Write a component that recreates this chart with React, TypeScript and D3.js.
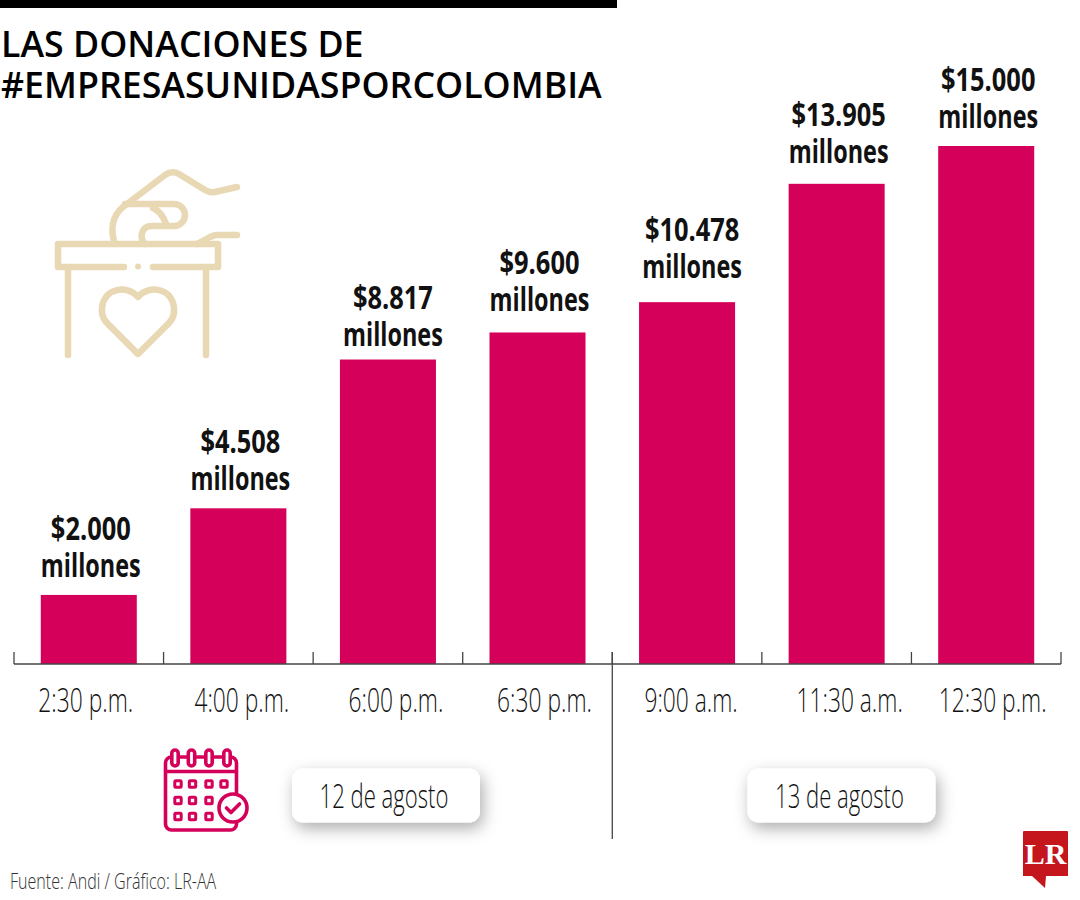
import React, { useEffect, useRef } from 'react';
import * as d3 from 'd3';

const times = ['2:30 p.m.', '4:00 p.m.', '6:00 p.m.', '6:30 p.m.', '9:00 a.m.', '11:30 a.m.', '12:30 p.m.'];
const donations = [2000, 4508, 8817, 9600, 10478, 13905, 15000];
const valueLabels = ['$2.000', '$4.508', '$8.817', '$9.600', '$10.478', '$13.905', '$15.000'];
const titleLines = ['LAS DONACIONES DE', '#EMPRESASUNIDASPORCOLOMBIA'];
const dayLabels = ['12 de agosto', '13 de agosto'];

// the labels are not quite centred on the bars in the original
const timeNudge = [-3, 3.5, 8, 7, 4, 13, 6.5];
const valueNudge = [2, 2, 5, 2, 5, 2, 2];
const valueLift = [0, 0, -4, 3, 6, 2.5, 0.5];

const FONT = '"Open Sans", sans-serif';
const PINK = '#d4005a';
const CREAM = '#e9d8b4';

const App: React.FC = () => {
	const ref = useRef<SVGSVGElement>(null);

	useEffect(() => {
		if (!ref.current) return;
		const svg = d3.select(ref.current);
		svg.selectAll('*').remove();

		const x = d3
			.scaleBand<string>()
			.domain(times)
			.range([14, 1061])
			.paddingInner(0.358)
			.paddingOuter(0.179);
		const y = d3.scaleLinear().domain([0, 15000]).range([664, 146]);
		const step = x.step();
		const cx = (t: string) => (x(t) ?? 0) + x.bandwidth() / 2;

		// condensed type is faked by squeezing a normal face horizontally
		const label = (
			px: number,
			py: number,
			text: string,
			size: number,
			weight: number,
			squeeze: number,
			anchor = 'middle',
			fill = '#111',
		) =>
			svg
				.append('text')
				.attr('transform', `translate(${px},${py}) scale(${squeeze},1)`)
				.attr('text-anchor', anchor)
				.attr('font-family', FONT)
				.attr('font-size', size)
				.attr('font-weight', weight)
				.attr('fill', fill)
				.text(text);

		// --- Header ---
		svg.append('rect').attr('x', 0).attr('y', 0).attr('width', 617).attr('height', 8).attr('fill', '#000');
		titleLines.forEach((line, i) => {
			label(1, 57 + i * 41, line, 36, 600, 0.993, 'start', '#000');
		});

		// --- Bars ---
		svg
			.selectAll('rect.bar')
			.data(donations)
			.enter()
			.append('rect')
			.attr('class', 'bar')
			.attr('x', (_, i) => x(times[i]) ?? 0)
			.attr('y', (d) => y(d))
			.attr('width', x.bandwidth())
			.attr('height', (d) => y(0) - y(d))
			.attr('fill', PINK);

		// --- Value labels ---
		donations.forEach((d, i) => {
			const px = cx(times[i]) + valueNudge[i];
			label(px, y(d) - 55 - valueLift[i], valueLabels[i], 33, 700, 0.77);
			label(px, y(d) - 18 - valueLift[i], 'millones', 33, 700, 0.71);
		});

		// --- Axis ---
		const axis = svg.append('g').attr('stroke', '#444').attr('stroke-width', 1.3);
		axis.append('line').attr('x1', 14).attr('x2', 1061).attr('y1', 664).attr('y2', 664);
		d3.range(times.length + 1).forEach((i) => {
			const tx = 14 + i * step;
			axis.append('line').attr('x1', tx).attr('x2', tx).attr('y1', 652).attr('y2', 664);
		});
		axis
			.append('line')
			.attr('x1', 14 + 4 * step)
			.attr('x2', 14 + 4 * step)
			.attr('y1', 652)
			.attr('y2', 839);

		times.forEach((t, i) => {
			label(cx(t) + timeNudge[i], 712, t, 33, 300, 0.69);
		});

		// --- Day badges ---
		const defs = svg.append('defs');
		const blur = defs
			.append('filter')
			.attr('id', 'badge-shadow')
			.attr('x', '-20%')
			.attr('y', '-50%')
			.attr('width', '140%')
			.attr('height', '220%');
		blur
			.append('feDropShadow')
			.attr('dx', 3)
			.attr('dy', 6)
			.attr('stdDeviation', 8)
			.attr('flood-color', '#000')
			.attr('flood-opacity', 0.32);
		[292, 747.5].forEach((bx, i) => {
			svg
				.append('rect')
				.attr('x', bx)
				.attr('y', 768.5)
				.attr('width', 188)
				.attr('height', 54)
				.attr('rx', 11)
				.attr('fill', '#fff')
				.attr('filter', 'url(#badge-shadow)');
			label(bx + 92, 808, dayLabels[i], 33, 300, 0.67);
		});

		// --- Ballot box icon ---
		const box = svg
			.append('g')
			.attr('fill', 'none')
			.attr('stroke', CREAM)
			.attr('stroke-width', 6.5)
			.attr('stroke-linecap', 'round')
			.attr('stroke-linejoin', 'round');
		[
			'M115 244C110 230 112 216 123 207L165 175Q172 170 179 174L205 190Q210 193 215 192L237 187',
			'M125 204H174A11 11 0 0 1 174 226H152C141 226 139 238 145 244',
			'M153 208Q162 212 166 224',
			'M197 244L210 237Q214 235 218 235H237',
			'M124 267H58V244H218V267H153',
			'M68 267V355',
			'M206 267V355',
			'M138 297C128 285 104 287 102 308C101 318 106 322 112 328L138 354L164 328C170 322 175 318 174 308C172 287 148 285 138 297Z',
		].forEach((d) => box.append('path').attr('d', d));
		svg.append('circle').attr('cx', 138).attr('cy', 266.5).attr('r', 3).attr('fill', CREAM);

		// --- Calendar icon ---
		const cal = svg
			.append('g')
			.attr('fill', 'none')
			.attr('stroke', PINK)
			.attr('stroke-width', 3.6)
			.attr('stroke-linejoin', 'round');
		cal.append('rect').attr('x', 165.5).attr('y', 757).attr('width', 71).attr('height', 73).attr('rx', 6);
		cal.append('line').attr('x1', 165.5).attr('x2', 236.5).attr('y1', 771.5).attr('y2', 771.5);
		[175, 191.5, 209, 227].forEach((rx) => {
			cal
				.append('rect')
				.attr('x', rx - 3.2)
				.attr('y', 750)
				.attr('width', 6.4)
				.attr('height', 16)
				.attr('rx', 3.2)
				.attr('fill', '#fff');
		});
		[
			[178, 784],
			[192.5, 784],
			[209, 784],
			[224, 784],
			[178, 800.5],
			[192.5, 800.5],
			[209, 800.5],
			[178, 816.5],
			[192.5, 816.5],
			[209, 816.5],
		].forEach(([sx, sy]) => {
			cal
				.append('rect')
				.attr('x', sx - 3.2)
				.attr('y', sy - 3.2)
				.attr('width', 6.4)
				.attr('height', 6.4)
				.attr('rx', 1)
				.attr('stroke-width', 3);
		});
		cal.append('circle').attr('cx', 233).attr('cy', 808).attr('r', 14).attr('fill', '#fff');
		cal
			.append('path')
			.attr('d', 'M226.5 808L231 812.5L239.5 804')
			.attr('stroke-width', 3.6)
			.attr('stroke-linecap', 'round');

		// --- Footer ---
		label(10, 889, 'Fuente: Andi / Gráfico: LR-AA', 22, 300, 0.73, 'start', '#333');

		// --- LR logo ---
		svg
			.append('path')
			.attr('d', 'M1024 831H1067Q1068 831 1068 832V876H1046L1045 888L1032 876H1023V832Q1023 831 1024 831Z')
			.attr('fill', '#c4161c');
		svg
			.append('text')
			.attr('x', 1045.5)
			.attr('y', 864)
			.attr('text-anchor', 'middle')
			.attr('font-family', '"Liberation Serif", serif')
			.attr('font-weight', 700)
			.attr('font-size', 30)
			.attr('fill', '#fff')
			.text('LR');
	}, []);

	return (
		<svg
			ref={ref}
			width={1080}
			height={900}
			style={{ position: 'absolute', left: 0, top: 0, background: '#fff' }}
		/>
	);
};

export default App;
